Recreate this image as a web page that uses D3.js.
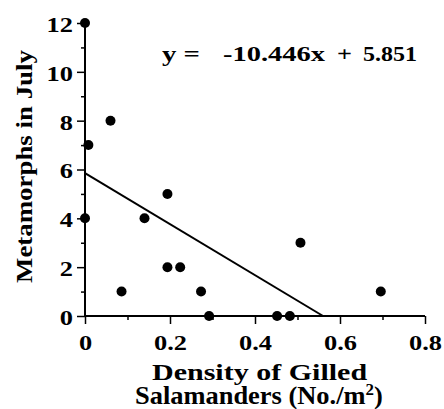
<!DOCTYPE html>
<html><head><meta charset="utf-8">
<script src="https://cdn.jsdelivr.net/npm/d3@7/dist/d3.min.js"></script>
<style>
html,body{margin:0;padding:0;background:#fff;}
text{font-family:"Liberation Serif","Times New Roman",serif;font-weight:bold;fill:#000;}
</style></head>
<body>
<svg id="c" width="444" height="409"></svg>
<script>
const density = [0, 0.008, 0.06, 0, 0.086, 0.14, 0.194, 0.194, 0.224, 0.273, 0.292, 0.452, 0.482, 0.507, 0.696];
const metamorphs = [12, 7, 8, 4, 1, 4, 5, 2, 2, 1, 0, 0, 0, 3, 1];
const slope = -10.446, intercept = 5.851;
const xTicks = [0, 0.2, 0.4, 0.6, 0.8];
const xMinor = [0.1, 0.3, 0.5, 0.7];
const yTicks = [0, 2, 4, 6, 8, 10, 12];
const yMinor = [1, 3, 5, 7, 9, 11];
const equationParts = ["y =", "-10.446x", "+", "5.851"];
const xTitle = ["Density of Gilled", "Salamanders (No./m", "2", ")"];
const yTitle = "Metamorphs in July";

const svg = d3.select("#c");
const L = 85, R = 425, T = 23, B = 316;
const SX = 1.2;
const x = d3.scaleLinear().domain([0, 0.8]).range([L, R]);
const y = d3.scaleLinear().domain([0, 12]).range([B, T]);

function stretch(sel, sx) {
  sel.each(function () {
    const el = d3.select(this);
    const ax = +el.attr("x") || 0;
    el.attr("transform", `translate(${ax},0) scale(${sx},1) translate(${-ax},0)`);
  });
}
// fit a text horizontally into [x0, x1]
function fit(el, x0, x1) {
  const bb = el.node().getBBox();
  const s = (x1 - x0) / bb.width;
  el.attr("transform", `translate(${x0},0) scale(${s},1) translate(${-bb.x},0)`);
}

// axes
const xAxis = svg.append("g").attr("transform", `translate(0,${B})`)
  .call(d3.axisBottom(x).tickValues(xTicks).tickSize(8).tickFormat(d3.format("")));
const xAxisMinor = svg.append("g").attr("transform", `translate(0,${B})`)
  .call(d3.axisBottom(x).tickValues(xMinor).tickSize(4).tickFormat(""));
const yAxis = svg.append("g").attr("transform", `translate(${L},0)`)
  .call(d3.axisLeft(y).tickValues(yTicks).tickSize(8).tickFormat(d3.format("")));
const yAxisMinor = svg.append("g").attr("transform", `translate(${L},0)`)
  .call(d3.axisLeft(y).tickValues(yMinor).tickSize(4).tickFormat(""));
[xAxis, xAxisMinor, yAxis, yAxisMinor].forEach(g => {
  g.attr("font-family", null);
  g.select(".domain").attr("stroke", "#000").attr("stroke-width", 2);
  g.selectAll(".tick line").attr("stroke", "#000").attr("stroke-width", 1.5);
});
[xAxisMinor, yAxisMinor].forEach(g => g.select(".domain").remove());
xAxis.select(".domain").attr("d", `M${L},0H${R}`);
yAxis.select(".domain").attr("d", `M0,${B}V${T}`);
const xt = xAxis.selectAll(".tick text").attr("font-weight", "bold")
  .attr("font-size", 22).attr("dy", null).attr("y", 34).attr("x", 0);
stretch(xt, SX);
const yt = yAxis.selectAll(".tick text").attr("font-weight", "bold")
  .attr("font-size", 22).attr("x", -12).attr("dy", "0.38em");
stretch(yt, SX);

// regression line
const x0 = 0, x1 = -intercept / slope;
svg.append("line")
  .attr("x1", x(x0)).attr("y1", y(intercept + slope * x0))
  .attr("x2", x(x1)).attr("y2", y(intercept + slope * x1))
  .attr("stroke", "#000").attr("stroke-width", 2);

// points
svg.append("g").selectAll("circle").data(density.map((d, i) => [d, metamorphs[i]]))
  .join("circle").attr("cx", d => x(d[0])).attr("cy", d => y(d[1])).attr("r", 5).attr("fill", "#000");

// equation
const eqSpan = [[162, 200], [223, 325], [337, 352], [363, 417]];
equationParts.forEach((p, i) => {
  const t = svg.append("text").attr("y", 61).attr("font-size", 22).text(p);
  fit(t, eqSpan[i][0], eqSpan[i][1]);
});

// x title
const tt1 = svg.append("text").attr("y", 380).attr("font-size", 24).text(xTitle[0]);
fit(tt1, 152, 368);
const tt2 = svg.append("text").attr("y", 404).attr("font-size", 25);
tt2.append("tspan").text(xTitle[1]);
tt2.append("tspan").attr("dy", -9).attr("font-size", 16).text(xTitle[2]);
tt2.append("tspan").attr("dy", 9).text(xTitle[3]);
fit(tt2, 135, 383);

// y title
const yl = svg.append("text").attr("text-anchor", "middle").attr("font-size", 24).text(yTitle);
const yw = yl.node().getBBox().width;
yl.attr("transform", `translate(32,166.5) rotate(-90) scale(${233 / yw},1)`);
</script>
</body></html>
